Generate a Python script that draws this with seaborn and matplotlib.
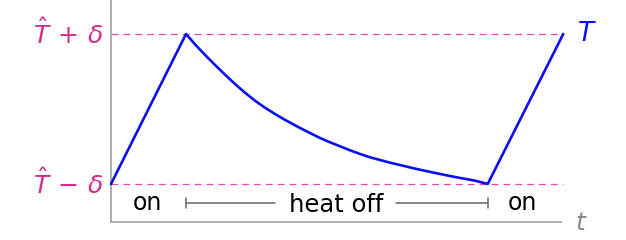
import matplotlib
matplotlib.use("Agg")
import matplotlib.pyplot as plt
import seaborn as sns
import pandas as pd

# Data
t_vals = [0.0, 1.0, 1.12, 1.253, 1.387, 1.52, 1.653, 1.787, 1.92, 2.053, 2.187,
          2.32, 2.52, 2.653, 2.787, 2.92, 3.053, 3.187, 3.32, 3.453, 3.587, 3.72,
          3.853, 4.053, 4.32, 4.587, 4.853, 5.023, 6.03]
T_vals = [-1.0, 1.0, 0.862, 0.722, 0.587, 0.458, 0.333, 0.217, 0.111, 0.017, -0.067,
          -0.145, -0.253, -0.32, -0.387, -0.444, -0.497, -0.551, -0.6, -0.644, -0.68,
          -0.716, -0.747, -0.795, -0.853, -0.907, -0.956, -1.0, 1.0]
band_levels = [1.0, -1.0]
band_labels = [r"$\hat{T}\,+\,\delta$", r"$\hat{T}\,-\,\delta$"]
phase_labels = ["on", "heat off", "on"]
phase_centers = [0.49, 3.0, 5.49]
off_start, off_end = 1.0, 5.03

sns.set_theme(style="white")
plt.rcParams["font.family"] = ["DejaVu Sans"]
plt.rcParams["mathtext.fontset"] = "dejavusans"

fig = plt.figure(figsize=(6.26, 2.40), dpi=100)
ax = fig.add_axes([111 / 626, 1 - 222 / 240, 450 / 626, 222 / 240])

df = pd.DataFrame({"t": t_vals, "T": T_vals})
sns.lineplot(data=df, x="t", y="T", sort=False, color="#0a10f0", lw=1.9, ax=ax,
             clip_on=False, zorder=3)

for lvl, lab in zip(band_levels, band_labels):
    ax.plot([0, 6.03], [lvl, lvl], color="#e64ca6", lw=0.9, dashes=(5.5, 4),
            clip_on=False, zorder=2)
    ax.text(-0.11, lvl, lab, ha="right", va="center", fontsize=18,
            color="#d42c8c", clip_on=False)

ax.set_xlim(0, 6)
ax.set_ylim(-1.507, 1.453)
ax.set_xticks([])
ax.set_yticks([])
ax.set_xlabel("")
ax.set_ylabel("")
for side in ["top", "right"]:
    ax.spines[side].set_visible(False)
for side in ["left", "bottom"]:
    ax.spines[side].set_color("#a0a0a0")
    ax.spines[side].set_linewidth(1.2)

y_ann = -1.255
ax.text(phase_centers[0], y_ann, phase_labels[0], ha="center", va="center",
        fontsize=17, color="black")
ax.text(phase_centers[1], y_ann - 0.02, phase_labels[1], ha="center", va="center",
        fontsize=17.5, color="black")
ax.text(phase_centers[2], y_ann, phase_labels[2], ha="center", va="center",
        fontsize=17, color="black")
ax.plot([off_start, 2.19], [y_ann, y_ann], color="#666666", lw=1.1)
ax.plot([3.80, off_end], [y_ann, y_ann], color="#666666", lw=1.1)
for xe in [off_start, off_end]:
    ax.plot([xe, xe], [y_ann - 0.07, y_ann + 0.07], color="#666666", lw=1.1)

ax.text(6.34, 1.0, r"$T$", ha="center", va="center", fontsize=19,
        color="#0a10f0", clip_on=False)
ax.text(6.27, -1.52, r"$t$", ha="center", va="center", fontsize=18,
        color="#8a8a8a", clip_on=False)

fig.savefig("out.png", dpi=100)
